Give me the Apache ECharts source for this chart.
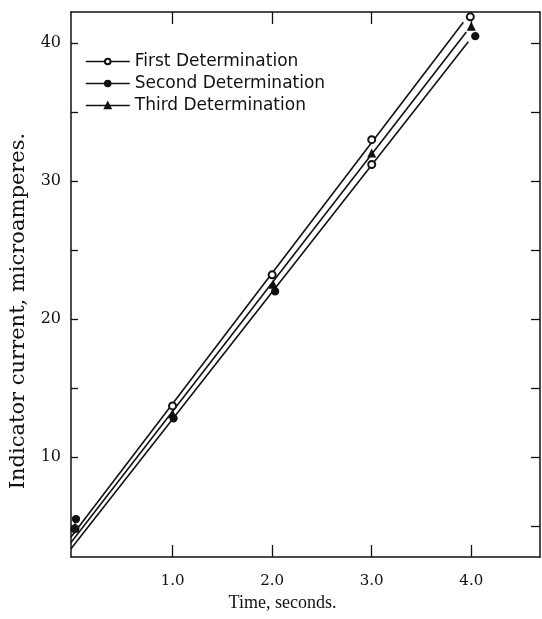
<!DOCTYPE html>
<html>
<head>
<meta charset="utf-8">
<script src="https://cdn.jsdelivr.net/npm/echarts@6/dist/echarts.min.js"></script>
<style>
  html, body { margin: 0; padding: 0; background: #fff; }
  #chart { width: 542px; height: 619px; }
</style>
</head>
<body>
<div id="chart"></div>
<script>
// measured points (time in s, current in microamperes)
const firstTime = [0.02, 1.0, 2.0, 3.0, 3.99]
const firstCurrent = [4.8, 13.7, 23.2, 33.0, 41.9]
const secondTime = [0.03, 1.01, 2.03, 3.0, 4.04]
const secondCurrent = [5.5, 12.8, 22.0, 31.2, 40.5]
const thirdTime = [0.02, 1.0, 2.01, 3.0, 4.0]
const thirdCurrent = [4.9, 13.1, 22.5, 32.0, 41.2]

// straight lines drawn through each determination (start, end)
const firstFit = [[-0.02, 4.2], [3.92, 41.5]]
const thirdFit = [[-0.02, 3.8], [3.95, 40.8]]
const secondFit = [[-0.02, 3.35], [3.97, 40.1]]

// the second point at 3.0 s is printed hollow in the original
const secondHollowIndex = 3

const xTicks = [1, 2, 3, 4]
const yTicks = [5, 10, 15, 20, 25, 30, 35, 40]
const yLabels = [10, 20, 30, 40]

const pairs = (xs, ys) => xs.map((x, i) => [x, ys[i]])

const serif = 'DejaVu Serif'
const ink = '#111'

const chart = echarts.init(document.getElementById('chart'), null, { renderer: 'canvas' })

const pointSeries = (name, data, symbol) => ({
  name,
  type: 'line',
  data,
  symbol,
  symbolSize: 7,
  showSymbol: true,
  z: 5,
  lineStyle: { width: 0, opacity: 0 },
  itemStyle: { color: ink, borderColor: ink, borderWidth: 1.3 },
  emphasis: { disabled: true }
})

const fitSeries = (data) => ({
  type: 'line',
  data,
  showSymbol: false,
  silent: true,
  z: 3,
  lineStyle: { color: ink, width: 1.6 }
})

const secondData = pairs(secondTime, secondCurrent).map((p, i) =>
  i === secondHollowIndex ? { value: p, symbol: 'emptyCircle' } : p
)

const frameLine = { onZero: false, lineStyle: { color: ink, width: 1.5 } }
const tickStyle = { color: ink, width: 1.3 }

chart.setOption({
  animation: false,
  backgroundColor: '#fff',
  grid: { left: 71, right: 2, top: 12, bottom: 62 },
  legend: {
    left: 85,
    top: 53,
    padding: 0,
    orient: 'vertical',
    itemWidth: 44,
    itemHeight: 7,
    itemGap: 5,
    data: ['First Determination', 'Second Determination', 'Third Determination'],
    textStyle: { fontFamily: 'DejaVu Sans', fontSize: 17, color: ink, lineHeight: 16 },
    lineStyle: { color: ink, width: 1.5, opacity: 1 },
    selectedMode: false
  },
  xAxis: [
    {
      type: 'value',
      min: -0.02,
      max: 4.69,
      name: 'Time, seconds.',
      nameLocation: 'middle',
      nameGap: 36,
      nameTextStyle: { fontFamily: 'Liberation Serif', fontSize: 18, color: ink, padding: [0, 46, 0, 0] },
      axisLine: frameLine,
      axisTick: { inside: true, length: 12, customValues: xTicks, lineStyle: tickStyle },
      axisLabel: {
        customValues: xTicks,
        formatter: (v) => v.toFixed(1),
        margin: 17,
        fontFamily: serif,
        fontSize: 15,
        color: ink
      },
      splitLine: { show: false }
    },
    {
      type: 'value',
      position: 'top',
      min: -0.02,
      max: 4.69,
      axisLine: frameLine,
      axisTick: { inside: true, length: 12, customValues: xTicks, lineStyle: tickStyle },
      axisLabel: { show: false },
      splitLine: { show: false }
    }
  ],
  yAxis: [
    {
      type: 'value',
      min: 2.75,
      max: 42.25,
      name: 'Indicator current, microamperes.',
      nameLocation: 'middle',
      nameGap: 42,
      nameTextStyle: { fontFamily: serif, fontSize: 21, color: ink, padding: [0, 53, 0, 0] },
      axisLine: frameLine,
      axisTick: { inside: true, length: 7, customValues: yTicks, lineStyle: tickStyle },
      axisLabel: { customValues: yLabels, margin: 10, fontFamily: serif, fontSize: 16, color: ink },
      splitLine: { show: false }
    },
    {
      type: 'value',
      position: 'right',
      min: 2.75,
      max: 42.25,
      axisLine: frameLine,
      axisTick: { inside: true, length: 9, customValues: yTicks, lineStyle: tickStyle },
      axisLabel: { show: false },
      splitLine: { show: false }
    }
  ],
  series: [
    fitSeries(firstFit),
    fitSeries(thirdFit),
    fitSeries(secondFit),
    pointSeries('First Determination', pairs(firstTime, firstCurrent), 'emptyCircle'),
    pointSeries('Second Determination', secondData, 'circle'),
    pointSeries('Third Determination', pairs(thirdTime, thirdCurrent), 'triangle')
  ]
})

window.addEventListener('resize', () => chart.resize())
</script>
</body>
</html>
